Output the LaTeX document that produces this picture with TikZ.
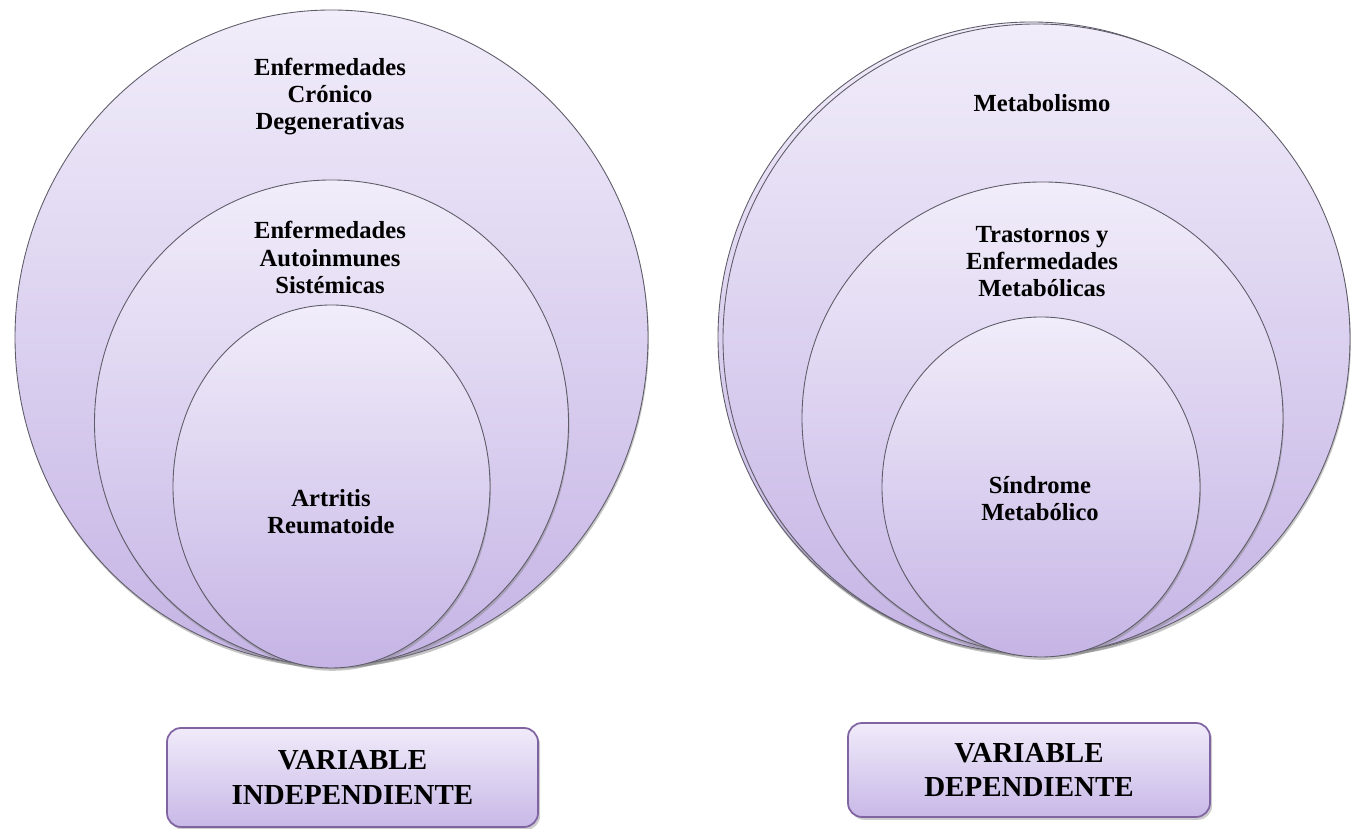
\documentclass[tikz,border=0pt]{standalone}
\usepackage{fontspec}
\setmainfont{LiberationSerif}[Extension=.ttf, UprightFont=*-Regular, BoldFont=*-Bold, ItalicFont=*-Italic, BoldItalicFont=*-BoldItalic]
\usetikzlibrary{shapes.geometric,shadows}
\definecolor{ringtop}{RGB}{241,237,250}
\definecolor{ringbot}{RGB}{197,180,229}
\definecolor{ringline}{RGB}{95,92,105}
\definecolor{boxtop}{RGB}{240,235,250}
\definecolor{boxbot}{RGB}{200,184,231}
\definecolor{boxline}{RGB}{128,100,162}

\begin{document}
\begin{tikzpicture}[
    ring/.style={ellipse, draw=ringline, line width=0.5pt, inner sep=0pt, top color=ringtop, bottom color=ringbot,
        drop shadow={opacity=0.45, shadow xshift=0.5pt, shadow yshift=-1.6pt}},
    ringtxt/.style={align=center, font=\fontsize{14}{15.4}\selectfont\bfseries},
    varbox/.style={draw=boxline, line width=1pt, rounded corners=8pt, inner sep=0pt, top color=boxtop, bottom color=boxbot,
        align=center, font=\fontsize{16.5}{19.8}\selectfont\bfseries,
        drop shadow={opacity=0.4, shadow xshift=1.2pt, shadow yshift=-1.6pt}}
]
\useasboundingbox (0,0) rectangle (27.12,16.58);

\node[ring, minimum width=12.66cm, minimum height=13.10cm] (outerL) at (6.63,9.83) {};
\node[ring, minimum width=9.48cm, minimum height=9.72cm] (midL) at (6.63,8.12) {};
\node[ring, minimum width=6.34cm, minimum height=7.26cm] (innerL) at (6.63,6.85) {};

\node[ring, minimum width=12.54cm, minimum height=12.60cm] (outerRb) at (20.63,9.84) {};
\node[ring, minimum width=12.54cm, minimum height=12.60cm] (outerR) at (20.73,9.80) {};
\node[ring, minimum width=9.62cm, minimum height=9.44cm] (midR) at (20.85,8.22) {};
\node[ring, minimum width=6.36cm, minimum height=6.80cm] (innerR) at (20.82,6.84) {};

\node[ringtxt] (lblOuterL) at (6.60,14.64) {Enfermedades\\Crónico\\Degenerativas};
\node[ringtxt] (lblMidL) at (6.60,11.43) {Enfermedades\\Autoinmunes\\Sistémicas};
\node[ringtxt] (lblInnerL) at (6.62,6.34) {Artritis\\Reumatoide};

\node[ringtxt] (lblOuterR) at (20.84,14.52) {Metabolismo};
\node[ringtxt] (lblMidR) at (20.84,11.34) {Trastornos y\\Enfermedades\\Metabólicas};
\node[ringtxt] (lblInnerR) at (20.80,6.60) {Síndrome\\Metabólico};

\node[varbox, minimum width=7.42cm, minimum height=1.98cm] (indep) at (7.05,1.03) {VARIABLE\\INDEPENDIENTE};
\node[varbox, minimum width=7.24cm, minimum height=1.88cm] (dep) at (20.58,1.18) {VARIABLE\\DEPENDIENTE};
\end{tikzpicture}
\end{document}
